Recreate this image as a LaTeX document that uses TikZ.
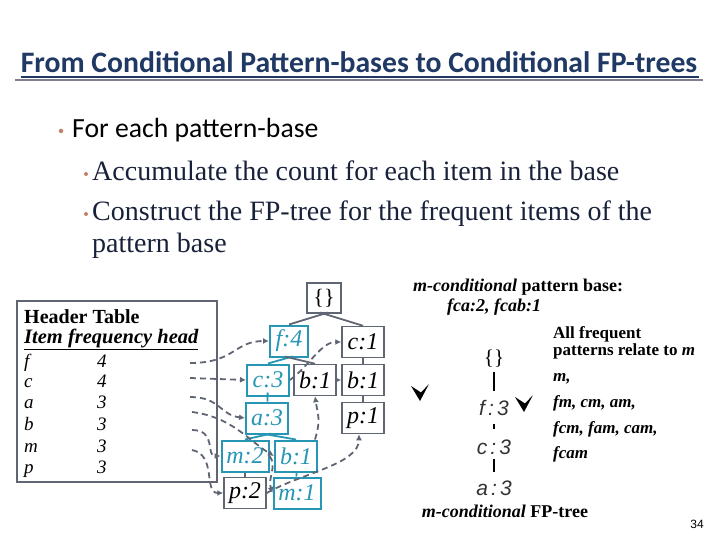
\documentclass[tikz,border=0pt]{standalone}
\usepackage{fontspec}
\setmainfont{Liberation Serif}
\setsansfont{Liberation Sans}
\newfontfamily\carlito{Carlito}
\newfontfamily\wideit[LetterSpace=15]{Liberation Sans}
\usetikzlibrary{arrows.meta,positioning}
\definecolor{titleblue}{RGB}{31,56,100}
\definecolor{navy}{RGB}{23,33,58}
\definecolor{dotbrown}{RGB}{196,128,104}
\definecolor{treegray}{RGB}{96,101,115}
\definecolor{treecyan}{RGB}{38,150,180}
\definecolor{shadowgray}{RGB}{128,128,140}

\begin{document}
\begin{tikzpicture}[x=1pt,y=-1pt,
  % boxes of the FP-tree
  gbox/.style={draw=treegray,fill=white,rectangle,line width=1.5pt,
               minimum width=42pt,minimum height=31pt,inner sep=1pt,
               font=\fontsize{24}{24}\selectfont\itshape},
  cbox/.style={gbox,draw=treecyan,text=treecyan,line width=2pt},
  % tree edges and node-links
  gedge/.style={draw=treegray,line width=1.8pt,shorten <=-4pt},
  cedge/.style={gedge,draw=treecyan},
  nlink/.style={draw=treegray,line width=1.8pt,dash pattern=on 6pt off 4pt,
                -{Latex[length=6pt,width=6pt]}},
  % header table text
  hrow/.style={anchor=base west,inner sep=0pt,font=\fontsize{19}{19}\selectfont\itshape},
  rtext/.style={anchor=base west,inner sep=0pt,font=\fontsize{17}{17}\selectfont\bfseries},
  ritem/.style={rtext,font=\fontsize{17}{17}\selectfont\bfseries\itshape},
  ctree/.style={inner sep=0pt,text=black!80,font=\wideit\itshape\fontsize{21}{21}\selectfont},
  dot/.style={circle,fill=dotbrown,inner sep=0pt,minimum size=4.5pt},
  cbar/.style={draw=black,line width=2.5pt},
  vmark/.pic={\fill (-9,-1) -- (0,14) -- (9,-3) -- (1,5.5) -- cycle;}
]
  \useasboundingbox (0,0) rectangle (720,540);

  % ---- Title ----
  \node[anchor=base,inner sep=0pt,text=titleblue,
        font=\carlito\bfseries\fontsize{29.7}{30}\selectfont] (title) at (359,73)
        {From Conditional Pattern-bases to Conditional FP-trees};
  \draw[shadowgray,line width=2.4pt] (15,80) -- (703,80);
  \draw[titleblue,line width=1.4pt] (title.base west) ++(0,4) -- ++(678,0);

  % ---- Bullets ----
  \node[dot] (d1) at (61,131) {};
  \node[anchor=base west,inner sep=0pt,font=\carlito\fontsize{27.7}{28}\selectfont] (b1) at (72,138) {For each pattern-base};
  \node[dot,minimum size=4pt] (d2) at (86,174) {};
  \node[anchor=base west,inner sep=0pt,text=navy,font=\fontsize{28}{28}\selectfont] (b2) at (92,181) {Accumulate the count for each item in the base};
  \node[dot,minimum size=4pt] (d3) at (86,214) {};
  \node[anchor=base west,inner sep=0pt,text=navy,font=\fontsize{28}{28}\selectfont] (b3) at (92,221) {Construct the FP-tree for the frequent items of the};
  \node[anchor=base west,inner sep=0pt,text=navy,font=\fontsize{28}{28}\selectfont] (b4) at (92,252) {pattern base};

  % ---- Header table ----
  \node[draw=treegray,line width=1.5pt,minimum width=200pt,minimum height=181pt] (htab) at (117,391.5) {};
  \node[rtext,font=\fontsize{20}{20}\selectfont\bfseries] (hhead) at (24,323) {Header Table};
  \node[rtext,font=\fontsize{20.5}{20}\selectfont\bfseries\itshape] (hcols) at (24,343) {\underline{Item\ frequency\ head}};
  \foreach \it/\fr/\yy in {f/4/367,c/4/387,a/3/408,b/3/430,m/3/452,p/3/473}{
    \node[hrow] (i\it) at (24,\yy) {\it};
    \node[hrow] (n\it) at (97,\yy) {\fr};
  }
  \coordinate (lf) at (190,363);
  \coordinate (lc) at (190,378);
  \coordinate (la) at (190,397);
  \coordinate (lb) at (192,412);
  \coordinate (lm) at (192,430);
  \coordinate (lp) at (192,450);

  % ---- FP-tree ----
  \node[gbox,minimum width=34pt,minimum height=30pt,font=\fontsize{22}{22}\selectfont] (root) at (324,298) {\{\}};
  \node[cbox,minimum width=38pt] (f4)  at (289,341) {f:4};
  \node[gbox]                    (c1)  at (363,342) {c:1};
  \node[cbox]                    (c3)  at (268,380) {c:3};
  \node[gbox]                    (b1m) at (315,380) {b:1};
  \node[gbox]                    (b1r) at (363,380) {b:1};
  \node[cbox]                    (a3)  at (267,418) {a:3};
  \node[gbox]                    (p1)  at (363,418) {p:1};
  \node[cbox,minimum width=47pt] (m2)  at (245,456) {m:2};
  \node[cbox]                    (b1l) at (296,456) {b:1};
  \node[gbox]                    (p2)  at (245,493) {p:2};
  \node[cbox,minimum width=47pt] (m1)  at (297,493) {m:1};

  \draw[gedge] (root.south) -- (f4.north);
  \draw[gedge] (root.south) -- (c1.north);
  \draw[cedge] (f4.south) -- (c3.north);
  \draw[gedge] (f4.south) -- (b1m.north);
  \draw[cedge] (c3) -- (a3);
  \draw[cedge] (a3.south) -- (m2.north);
  \draw[cedge] (a3.south) -- (b1l.north);
  \draw[gedge,shorten <=0pt] (m2) -- (p2);
  \draw[cedge,shorten <=0pt] (b1l) -- (m1);
  \draw[gedge,shorten <=0pt] (c1) -- (b1r);
  \draw[gedge,shorten <=0pt] (b1r) -- (p1);

  % ---- Node-links ----
  \draw[nlink] (lf) .. controls +(45,0) and +(-35,0) .. (f4.west);
  \draw[nlink] (lc) -- (c3.west);
  \draw[nlink] (la) .. controls +(30,0) and +(-25,-3) .. (a3.west);
  \draw[nlink] (lb) .. controls +(40,5) and +(-25,-15) .. (b1l.west);
  \draw[nlink] (lm) .. controls +(25,0) and +(-15,0) .. (m2.west);
  \draw[nlink] (lp) .. controls +(25,5) and +(-20,0) .. (p2.west);
  \draw[nlink] (c3.east) .. controls +(20,-15) and +(-20,0) .. (c1.west);
  \draw[nlink] (b1m.east) -- (b1r.west);
  \draw[nlink] ([xshift=-3pt]b1l.north east) .. controls +(6,-20) and +(3,20) .. (b1m.south);
  \draw[nlink] (m2.east) .. controls +(8,10) and +(-5,-15) .. (m1.west);
  \draw[nlink] (p2.east) .. controls +(35,-20) and +(0,30) .. ([xshift=-4pt]p1.south);

  % ---- m-conditional side ----
  \node[anchor=base west,inner sep=0pt,font=\fontsize{18}{18}\selectfont\bfseries] (pbase) at (413,291)
        {\textit{m-conditional} pattern base:};
  \node[anchor=base west,inner sep=0pt,font=\fontsize{18}{18}\selectfont\bfseries\itshape] (pitems) at (447,311) {fca:2, fcab:1};
  \node[rtext] (all1) at (553,338) {All frequent};
  \node[rtext] (all2) at (553,355) {patterns relate to \textit{m}};
  \node[ritem] (p1s) at (553,381) {m,};
  \node[ritem] (p2s) at (553,407) {fm, cm, am,};
  \node[ritem] (p3s) at (553,433) {fcm, fam, cam,};
  \node[ritem] (p4s) at (553,458) {fcam};

  \node[inner sep=0pt,font=\fontsize{21}{21}\selectfont] (cr) at (494,359) {\{\}};
  \node[ctree] (cf) at (494,408) {f:3};
  \node[ctree] (cc) at (494,447) {c:3};
  \node[ctree] (ca) at (494,488) {a:3};
  \draw[cbar,shorten <=4pt,shorten >=9pt] (cr) -- (cf);
  \draw[cbar,shorten <=8pt,shorten >=10pt] (cf) -- (cc);
  \draw[cbar,shorten <=4pt,shorten >=8pt] (cc) -- (ca);
  \node[anchor=base,inner sep=0pt,font=\fontsize{18}{18}\selectfont\bfseries] (ctitle) at (505,517)
        {\textit{m-conditional} FP-tree};

  \pic at (420,387) {vmark};
  \pic at (524,398) {vmark};

  % ---- Page number ----
  \node[font=\sffamily\fontsize{12}{12}\selectfont] (pg) at (697,524) {34};
\end{tikzpicture}
\end{document}
